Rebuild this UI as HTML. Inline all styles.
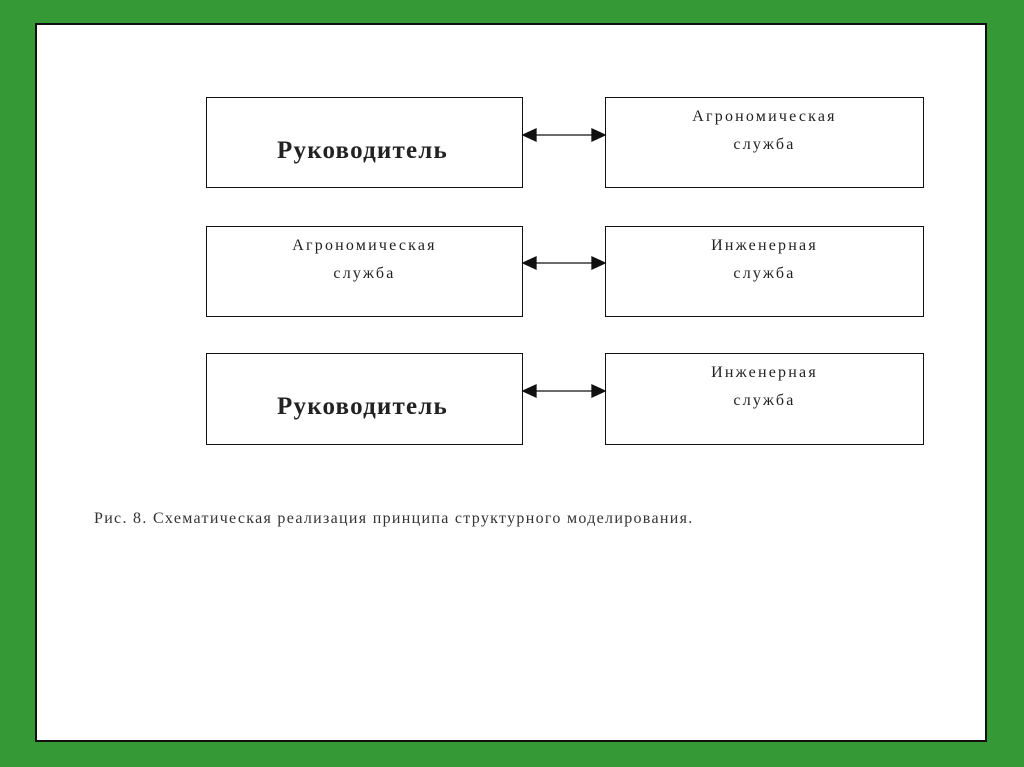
<!DOCTYPE html><html><head><style>
body{margin:0;width:1024px;height:767px;background:#359a35;position:relative;overflow:hidden;font-family:"Liberation Serif",serif}
.pg{position:absolute;left:35px;top:23px;width:948px;height:715px;background:#fff;border:2px solid #111}
.b{position:absolute;border:1.5px solid #111;background:#fff;box-sizing:border-box;text-align:center;color:#222}
.bold{font-weight:bold;font-size:25px;letter-spacing:1.2px;line-height:26px;padding-top:40px;padding-right:4px}
.t{font-size:16px;line-height:28px;letter-spacing:2.2px;padding-top:5px}
.cap{position:absolute;left:94px;top:510px;font-family:"Liberation Serif",serif;font-size:16px;letter-spacing:1.3px;color:#333;white-space:nowrap}
</style></head><body><div class="pg"></div>
<div class="b bold" style="left:206px;top:97px;width:317px;height:91px">Руководитель</div>
<div class="b t" style="left:605px;top:97px;width:319px;height:91px">Агрономическая<br>служба</div>
<div class="b t" style="left:206px;top:226px;width:317px;height:91px">Агрономическая<br>служба</div>
<div class="b t" style="left:605px;top:226px;width:319px;height:91px">Инженерная<br>служба</div>
<div class="b bold" style="left:206px;top:353px;width:317px;height:92px">Руководитель</div>
<div class="b t" style="left:605px;top:353px;width:319px;height:92px">Инженерная<br>служба</div>
<svg width="1024" height="767" style="position:absolute;left:0;top:0">
<g stroke="#111" stroke-width="1.3" fill="#111">
<line x1="530" y1="135" x2="597" y2="135"/><polygon points="523,135 536,129 536,141"/><polygon points="605,135 592,129 592,141"/>
<line x1="530" y1="263" x2="597" y2="263"/><polygon points="523,263 536,257 536,269"/><polygon points="605,263 592,257 592,269"/>
<line x1="530" y1="391" x2="597" y2="391"/><polygon points="523,391 536,385 536,397"/><polygon points="605,391 592,385 592,397"/>
</g></svg>
<div class="cap">Рис. 8. Схематическая реализация принципа структурного моделирования.</div>
</body></html>
